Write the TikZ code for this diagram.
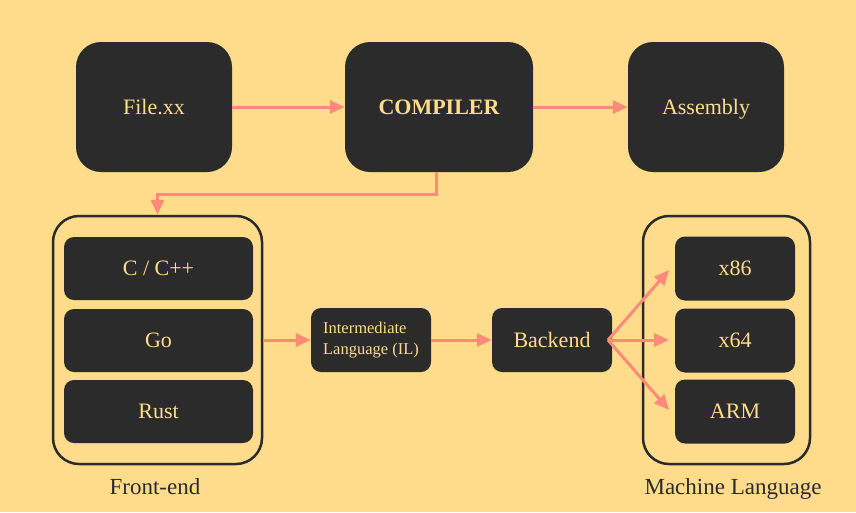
\documentclass[tikz,border=0pt]{standalone}
\usepackage{fontspec}
\setmainfont{Liberation Serif}
\usetikzlibrary{arrows.meta}
\definecolor{bg}{RGB}{254,220,140}
\definecolor{boxc}{RGB}{43,43,43}
\definecolor{arr}{RGB}{255,138,122}
\tikzset{
  bigbox/.style={fill=boxc, rounded corners=25pt, minimum width=156pt, minimum height=130pt, inner sep=0pt, text=bg, font=\fontsize{22}{26}\selectfont, text height=17pt, text depth=3pt},
  smallbox/.style={fill=boxc, rounded corners=10pt, minimum width=120pt, minimum height=64pt, inner sep=0pt, text=bg, font=\fontsize{22}{26}\selectfont, text height=17pt, text depth=3pt},
  langbox/.style={smallbox, minimum width=189pt, minimum height=63pt},
  container/.style={draw=boxc, line width=2.5pt, rounded corners=26pt, minimum height=248pt, inner sep=0pt},
  caption/.style={text=boxc, font=\fontsize{23}{27}\selectfont, inner sep=0pt, text height=16pt, text depth=5pt},
  conn/.style={draw=arr, line width=3pt, -{Triangle[length=15pt, width=13pt]}},
}
\begin{document}
\begin{tikzpicture}[x=1pt, y=-1pt]
\fill[bg] (0,0) rectangle (856,512);
\useasboundingbox (0,0) rectangle (856,512);

\node[bigbox] (file) at (154,107) {File.xx};
\node[bigbox, minimum width=188pt] (comp) at (439,107) {\bfseries COMPILER};
\node[bigbox] (asm) at (706,107) {Assembly};

\node[container, minimum width=209pt] (fe) at (157.5,340) {};
\node[langbox] (c) at (158.5,268.5) {C / C++};
\node[langbox] (go) at (158.5,340.5) {Go};
\node[langbox] (rust) at (158.5,411.5) {Rust};
\node[caption] (fel) at (155,489) {Front-end};

\node[smallbox, font=\fontsize{16.5}{21}\selectfont, align=left, text height=, text depth=] (il) at (371,340) {Intermediate\\Language (IL)};
\node[smallbox] (be) at (552,340) {Backend};

\node[container, minimum width=167pt] (ml) at (726.5,340) {};
\node[smallbox] (x86) at (735,268.5) {x86};
\node[smallbox] (x64) at (735,340.5) {x64};
\node[smallbox] (arm) at (735,411.5) {ARM};
\node[caption] (mll) at (733,489) {Machine Language};

\coordinate (bs) at (608,340);
\coordinate (t1) at (669,270);
\coordinate (t2) at (669,340);
\coordinate (t3) at (669,410);

\draw[conn] (file.east) -- (comp.west);
\draw[conn] (comp.east) -- (asm.west);
\draw[conn, rounded corners=0pt] ([xshift=-3pt]comp.south) -- ++(0,22) -| (fe.north);
\draw[conn] (fe.east |- il.west) -- (il.west);
\draw[conn] (il.east) -- (be.west);
\draw[conn] (bs) -- (t1);
\draw[conn] (bs) -- (t2);
\draw[conn] (bs) -- (t3);
\end{tikzpicture}
\end{document}
